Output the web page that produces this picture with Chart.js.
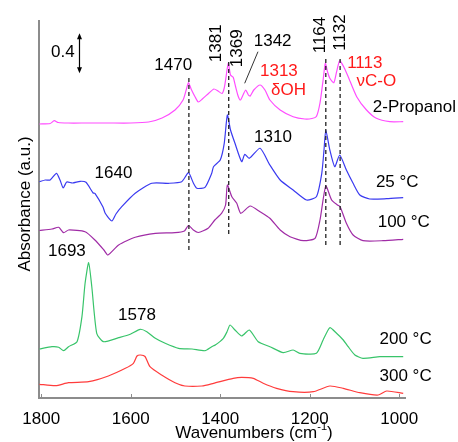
<!DOCTYPE html>
<html>
<head>
<meta charset="utf-8">
<title>IR spectra</title>
<script src="https://cdn.jsdelivr.net/npm/chart.js@4.4.0/dist/chart.umd.min.js"></script>
<style>
    html, body { margin: 0; padding: 0; background: #fff; }
    #wrap { width: 458px; height: 442px; }
</style>
</head>
<body>
<div id="wrap"><canvas id="irChart" width="458" height="442"></canvas></div>
<script>
// Tick labels on the wavenumber axis
const xTicks = [1800, 1600, 1400, 1200, 1000];

// Marked peak positions (dashed guides)
const guidePeaks = [1470, 1381, 1164, 1132];

// Spectra (wavenumber, stacked absorbance)
const propanolWn = [1804, 1780, 1771, 1762, 1740, 1700, 1650, 1600, 1560, 1530, 1501, 1483, 1476, 1471, 1464, 1456, 1449, 1440, 1425, 1414, 1405, 1396, 1391, 1387, 1382, 1377, 1371, 1366, 1360, 1355, 1349, 1343, 1337, 1333, 1325, 1311, 1300, 1289, 1266, 1237, 1211, 1195, 1185, 1177, 1170, 1165, 1160, 1155, 1146, 1140, 1133, 1124, 1114, 1095, 1073, 1051, 1021, 991];
const propanolAbs = [2.74, 2.745, 2.773, 2.755, 2.75, 2.75, 2.75, 2.75, 2.76, 2.80, 2.88, 2.98, 3.08, 3.153, 3.08, 3.01, 2.96, 2.99, 3.05, 3.09, 3.07, 3.045, 3.10, 3.21, 3.35, 3.23, 3.207, 3.12, 3.02, 2.98, 3.03, 3.08, 3.03, 3.02, 3.08, 3.13, 3.08, 2.98, 2.88, 2.813, 2.79, 2.795, 2.815, 2.95, 3.18, 3.347, 3.26, 3.197, 3.153, 3.26, 3.373, 3.313, 3.213, 3.013, 2.88, 2.797, 2.763, 2.763];

const t25Wn = [1804, 1791, 1780, 1766, 1758, 1751, 1743, 1730, 1713, 1700, 1684, 1680, 1662, 1657, 1642, 1633, 1620, 1590, 1553, 1516, 1486, 1471, 1460, 1452, 1434, 1419, 1415, 1400, 1391, 1384, 1377, 1367, 1352, 1345, 1335, 1311, 1289, 1266, 1237, 1207, 1185, 1173, 1168, 1164, 1155, 1144, 1133, 1118, 1103, 1088, 1066, 1028, 991];
const t25Abs = [2.163, 2.18, 2.18, 2.247, 2.18, 2.10, 2.16, 2.15, 2.167, 2.157, 2.05, 2.047, 1.91, 1.847, 1.77, 1.84, 1.913, 2.047, 2.147, 2.147, 2.163, 2.253, 2.15, 2.097, 2.107, 2.247, 2.313, 2.38, 2.547, 2.83, 2.68, 2.547, 2.363, 2.437, 2.397, 2.497, 2.33, 2.18, 2.08, 1.98, 2.013, 2.247, 2.48, 2.68, 2.48, 2.313, 2.43, 2.28, 2.147, 2.03, 1.99, 1.993, 2.003];

const t100Wn = [1804, 1776, 1761, 1750, 1739, 1702, 1680, 1660, 1651, 1627, 1590, 1545, 1501, 1480, 1471, 1460, 1449, 1427, 1412, 1397, 1388, 1384, 1374, 1363, 1354, 1333, 1311, 1289, 1266, 1244, 1214, 1188, 1177, 1164, 1151, 1138, 1132, 1118, 1103, 1081, 1036, 991];
const t100Abs = [1.675, 1.69, 1.707, 1.653, 1.68, 1.663, 1.58, 1.48, 1.43, 1.53, 1.607, 1.647, 1.653, 1.67, 1.725, 1.68, 1.655, 1.697, 1.78, 1.847, 1.93, 2.13, 2.013, 1.947, 1.847, 1.92, 1.863, 1.797, 1.68, 1.613, 1.573, 1.597, 1.78, 2.12, 1.98, 1.93, 1.913, 1.747, 1.63, 1.573, 1.573, 1.587];

const t200Wn = [1804, 1776, 1761, 1750, 1739, 1720, 1709, 1702, 1694, 1687, 1676, 1661, 1627, 1601, 1579, 1564, 1545, 1523, 1493, 1463, 1434, 1419, 1411, 1393, 1385, 1378, 1367, 1352, 1335, 1315, 1289, 1259, 1237, 1222, 1185, 1170, 1155, 1140, 1125, 1114, 1099, 1081, 1043, 991];
const t200Abs = [0.49, 0.513, 0.507, 0.473, 0.513, 0.563, 0.813, 1.147, 1.353, 1.113, 0.647, 0.563, 0.603, 0.637, 0.687, 0.663, 0.597, 0.547, 0.497, 0.49, 0.473, 0.513, 0.53, 0.597, 0.66, 0.73, 0.68, 0.62, 0.68, 0.563, 0.513, 0.453, 0.48, 0.447, 0.447, 0.58, 0.703, 0.647, 0.58, 0.513, 0.43, 0.397, 0.413, 0.413];

const t300Wn = [1804, 1768, 1739, 1694, 1650, 1612, 1594, 1586, 1578, 1568, 1557, 1531, 1501, 1479, 1441, 1415, 1371, 1352, 1326, 1304, 1274, 1237, 1192, 1155, 1125, 1088, 1047, 1028, 991];
const t300Abs = [0.137, 0.123, 0.153, 0.163, 0.22, 0.297, 0.347, 0.42, 0.43, 0.415, 0.313, 0.23, 0.153, 0.12, 0.12, 0.147, 0.197, 0.207, 0.197, 0.147, 0.097, 0.063, 0.063, 0.12, 0.097, 0.053, 0.03, 0.07, 0.047];

const FONT = '"Liberation Sans", Arial, sans-serif';

function toPoints(wn, abs) {
    return wn.map((w, i) => ({ x: w, y: abs[i] }));
}

function makeSet(label, wn, abs, color) {
    return {
        label: label,
        data: toPoints(wn, abs),
        borderColor: color,
        borderWidth: 1.2,
        pointRadius: 0,
        tension: 0.2,
        fill: false
    };
}

// Labels, guides, scale bar and axis titles
const annotations = {
    id: 'annotations',
    afterDraw(chart) {
        const { ctx, scales: { x, y } } = chart;
        const px = w => x.getPixelForValue(w);
        const py = v => y.getPixelForValue(v);

        ctx.save();

        // inward tick marks on the x axis
        ctx.strokeStyle = '#8c8c8c';
        ctx.lineWidth = 1;
        xTicks.forEach(w => {
            const xp = Math.round(px(w)) + 0.5;
            ctx.beginPath();
            ctx.moveTo(xp, y.bottom);
            ctx.lineTo(xp, y.bottom - 4);
            ctx.stroke();
        });

        // dashed guides at the marked peaks
        const guideEnds = { 1470: [3.20, 1.47], 1381: [3.36, 1.63], 1164: [3.39, 1.51], 1132: [3.39, 1.53] };
        ctx.setLineDash([4, 3]);
        ctx.lineWidth = 1.3;
        ctx.strokeStyle = '#222';
        guidePeaks.forEach(w => {
            const ends = guideEnds[w];
            ctx.beginPath();
            ctx.moveTo(px(w), py(ends[0]));
            ctx.lineTo(px(w), py(ends[1]));
            ctx.stroke();
        });
        ctx.setLineDash([]);

        // 0.4 scale bar
        const bx = px(1714.5), bTop = py(3.647), bBot = py(3.247);
        ctx.strokeStyle = '#000';
        ctx.fillStyle = '#000';
        ctx.lineWidth = 1.2;
        ctx.beginPath();
        ctx.moveTo(bx, bTop + 2);
        ctx.lineTo(bx, bBot - 2);
        ctx.stroke();
        [[bTop, 1], [bBot, -1]].forEach(([yy, d]) => {
            ctx.beginPath();
            ctx.moveTo(bx, yy);
            ctx.lineTo(bx - 2.5, yy + 6 * d);
            ctx.lineTo(bx + 2.5, yy + 6 * d);
            ctx.closePath();
            ctx.fill();
        });

        // leader line for 1342
        ctx.strokeStyle = '#333';
        ctx.lineWidth = 1;
        ctx.beginPath();
        ctx.moveTo(px(1315.6), py(3.463));
        ctx.lineTo(px(1345.3), py(3.147));
        ctx.stroke();

        const labels = [
            { t: '0.4', w: 1751.6, v: 3.453 },
            { t: '1470', w: 1505, v: 3.33 },
            { t: '1381', w: 1408.7, v: 3.547, rot: true },
            { t: '1369', w: 1362.5, v: 3.497, rot: true },
            { t: '1342', w: 1282.8, v: 3.563 },
            { t: '1313', w: 1268.8, v: 3.263, c: '#ff1a1a' },
            { t: 'δOH', w: 1247.5, v: 3.073, c: '#ff1a1a' },
            { t: '1164', w: 1175.7, v: 3.63, rot: true },
            { t: '1132', w: 1131, v: 3.655, rot: true },
            { t: '1113', w: 1076.8, v: 3.347, c: '#ff1a1a' },
            { t: 'νC-O', w: 1051, v: 3.17, c: '#ff1a1a' },
            { t: '2-Propanol', w: 1059, v: 2.907, left: true },
            { t: '1310', w: 1282, v: 2.603 },
            { t: '25 °C', w: 1052, v: 2.153, left: true },
            { t: '100 °C', w: 1048, v: 1.76, left: true },
            { t: '1640', w: 1638.6, v: 2.247 },
            { t: '1693', w: 1742.6, v: 1.463 },
            { t: '1578', w: 1586, v: 0.83 },
            { t: '200 °C', w: 1044, v: 0.59, left: true },
            { t: '300 °C', w: 1044, v: 0.213, left: true }
        ];
        ctx.font = '17px ' + FONT;
        ctx.textBaseline = 'middle';
        labels.forEach(l => {
            ctx.fillStyle = l.c || '#000';
            ctx.save();
            ctx.translate(px(l.w), py(l.v));
            if (l.rot) ctx.rotate(-Math.PI / 2);
            ctx.textAlign = l.left ? 'left' : 'center';
            ctx.fillText(l.t, 0, 0);
            ctx.restore();
        });

        // axis titles
        ctx.fillStyle = '#000';
        ctx.save();
        ctx.translate(25, 204);
        ctx.rotate(-Math.PI / 2);
        ctx.textAlign = 'center';
        ctx.fillText('Absorbance (a.u.)', 0, 0);
        ctx.restore();

        const main = 'Wavenumbers (cm', sup = '-1', tail = ')';
        ctx.font = '17px ' + FONT;
        const wMain = ctx.measureText(main).width;
        const wTail = ctx.measureText(tail).width;
        ctx.font = '11px ' + FONT;
        const wSup = ctx.measureText(sup).width;
        let tx = 254 - (wMain + wSup + wTail) / 2;
        ctx.textAlign = 'left';
        ctx.font = '17px ' + FONT;
        ctx.fillText(main, tx, 433);
        tx += wMain;
        ctx.font = '11px ' + FONT;
        ctx.fillText(sup, tx, 427);
        tx += wSup;
        ctx.font = '17px ' + FONT;
        ctx.fillText(tail, tx, 433);

        ctx.restore();
    }
};

document.addEventListener('DOMContentLoaded', function() {
    const ctx = document.getElementById('irChart').getContext('2d');
    new Chart(ctx, {
        type: 'line',
        data: {
            datasets: [
                makeSet('2-Propanol', propanolWn, propanolAbs, '#ff4dff'),
                makeSet('25 °C', t25Wn, t25Abs, '#3a3af0'),
                makeSet('100 °C', t100Wn, t100Abs, '#a02ca6'),
                makeSet('200 °C', t200Wn, t200Abs, '#38c46a'),
                makeSet('300 °C', t300Wn, t300Abs, '#ff3c3c')
            ]
        },
        options: {
            responsive: false,
            animation: false,
            devicePixelRatio: 1,
            layout: { padding: { left: 0, right: 53, top: 21, bottom: 0 } },
            plugins: {
                legend: { display: false },
                tooltip: { enabled: false }
            },
            scales: {
                x: {
                    type: 'linear',
                    reverse: true,
                    min: 987,
                    max: 1805,
                    afterBuildTicks: scale => {
                        scale.ticks = xTicks.map(v => ({ value: v }));
                    },
                    afterFit: scale => { scale.height = 44; },
                    ticks: {
                        color: '#000',
                        font: { family: FONT, size: 17 },
                        padding: 3.5,
                        maxRotation: 0,
                        autoSkip: false,
                        callback: value => String(value)
                    },
                    grid: { display: false },
                    border: { display: true, color: '#8c8c8c', width: 2 }
                },
                y: {
                    min: 0,
                    max: 3.77,
                    afterFit: scale => { scale.width = 39; },
                    ticks: { display: false },
                    grid: { display: false },
                    border: { display: true, color: '#8c8c8c', width: 2 }
                }
            }
        },
        plugins: [annotations]
    });
});
</script>
</body>
</html>
